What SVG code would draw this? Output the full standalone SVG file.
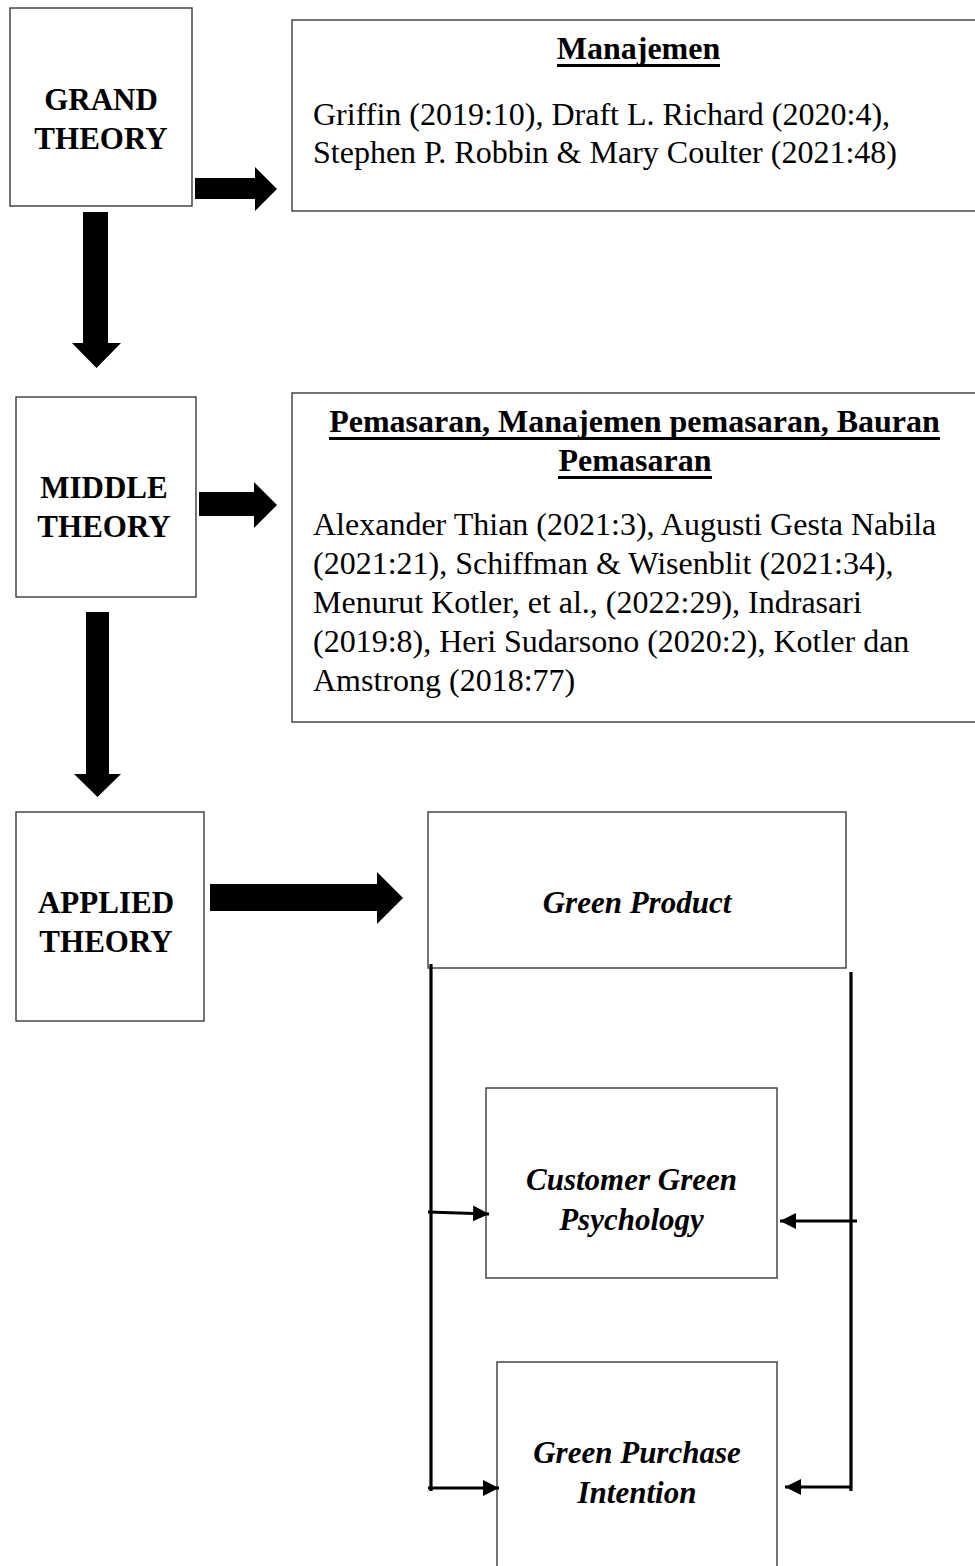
<svg xmlns="http://www.w3.org/2000/svg" width="975" height="1566" viewBox="0 0 975 1566">
<style>
.box{fill:#fff;stroke:#3a3a3a;stroke-width:1.4}
.lbl{font-family:"Liberation Serif","Times New Roman",serif;font-size:31px;font-weight:bold;fill:#000;text-anchor:middle}
.var{font-family:"Liberation Serif","Times New Roman",serif;font-size:31px;font-weight:bold;font-style:italic;fill:#000;text-anchor:middle}
.ttl{font-family:"Liberation Serif","Times New Roman",serif;font-size:32px;font-weight:bold;fill:#000;text-anchor:middle}
.body{font-family:"Liberation Serif","Times New Roman",serif;font-size:32px;fill:#000}
.ul{stroke:#000;stroke-width:3}
.blk{fill:#000}
.ln{stroke:#000;stroke-width:3.2;fill:none}
</style>
<defs>
<marker id="ah" markerUnits="userSpaceOnUse" markerWidth="18" markerHeight="16" refX="16" refY="8" orient="auto">
<path d="M0,0 L16,8 L0,16 Z" fill="#000"/>
</marker>
</defs>
<rect width="975" height="1566" fill="#fff"/>

<g id="grand">
<rect class="box" x="10" y="8" width="182" height="198"/>
<text class="lbl" x="101" y="110">GRAND</text>
<text class="lbl" x="101" y="149">THEORY</text>
</g>

<g id="manajemen">
<rect class="box" x="292" y="20" width="690" height="191"/>
<text class="ttl" x="638.5" y="59">Manajemen</text>
<line class="ul" x1="557" y1="65.5" x2="720" y2="65.5"/>
<text class="body" x="313" y="125">Griffin (2019:10), Draft L. Richard (2020:4),</text>
<text class="body" x="313" y="163">Stephen P. Robbin &amp; Mary Coulter (2021:48)</text>
</g>

<g id="middle">
<rect class="box" x="16" y="397" width="180" height="200"/>
<text class="lbl" x="104" y="498">MIDDLE</text>
<text class="lbl" x="104" y="537">THEORY</text>
</g>

<g id="pemasaran">
<rect class="box" x="292" y="393" width="690" height="329"/>
<text class="ttl" x="634.5" y="432">Pemasaran, Manajemen pemasaran, Bauran</text>
<line class="ul" x1="329" y1="438.5" x2="940" y2="438.5"/>
<text class="ttl" x="635" y="471">Pemasaran</text>
<line class="ul" x1="558" y1="477.5" x2="712" y2="477.5"/>
<text class="body" x="313" y="535">Alexander Thian (2021:3), Augusti Gesta Nabila</text>
<text class="body" x="313" y="574">(2021:21), Schiffman &amp; Wisenblit (2021:34),</text>
<text class="body" x="313" y="613">Menurut Kotler, et al., (2022:29), Indrasari</text>
<text class="body" x="313" y="652">(2019:8), Heri Sudarsono (2020:2), Kotler dan</text>
<text class="body" x="313" y="691">Amstrong (2018:77)</text>
</g>

<g id="applied">
<rect class="box" x="16" y="812" width="188" height="209"/>
<text class="lbl" x="106" y="913">APPLIED</text>
<text class="lbl" x="106" y="952">THEORY</text>
</g>

<g id="green-product">
<rect class="box" x="428" y="812" width="418" height="156"/>
<text class="var" x="637" y="913">Green Product</text>
</g>

<g id="customer-green-psychology">
<rect class="box" x="486" y="1088" width="291" height="190"/>
<text class="var" x="631.5" y="1190">Customer Green</text>
<text class="var" x="631.5" y="1230">Psychology</text>
</g>

<g id="green-purchase-intention">
<rect class="box" x="497" y="1362" width="280" height="220"/>
<text class="var" x="637" y="1463">Green Purchase</text>
<text class="var" x="637" y="1503">Intention</text>
</g>

<g id="connectors">
<polygon class="blk" points="195,178 255,178 255,167 277,189 255,211 255,199 195,199"/>
<polygon class="blk" points="83,212 108,212 108,343 121,343 96.5,368 72,343 83,343"/>
<polygon class="blk" points="199,492 254,492 254,482 277,505 254,528 254,516 199,516"/>
<polygon class="blk" points="86,612 109,612 109,774 121,774 97.5,797 74,774 86,774"/>
<polygon class="blk" points="210,884 377,884 377,872 403,898 377,924 377,911 210,911"/>
<line class="ln" x1="431" y1="964" x2="431" y2="1491"/>
<line class="ln" x1="851" y1="972" x2="851" y2="1491"/>
<line class="ln" x1="428" y1="1212" x2="489" y2="1214" marker-end="url(#ah)"/>
<line class="ln" x1="857" y1="1221" x2="780" y2="1221" marker-end="url(#ah)"/>
<line class="ln" x1="428" y1="1488" x2="499" y2="1488" marker-end="url(#ah)"/>
<line class="ln" x1="852" y1="1487" x2="785" y2="1487" marker-end="url(#ah)"/>
</g>
</svg>
